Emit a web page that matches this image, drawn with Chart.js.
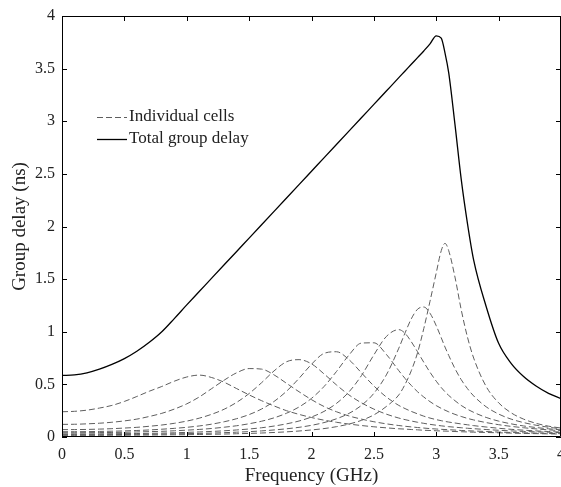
<!DOCTYPE html>
<html>
<head>
<meta charset="utf-8">
<script src="https://cdn.jsdelivr.net/npm/chart.js@4/dist/chart.umd.min.js"></script>
<style>
  html, body { margin: 0; padding: 0; background: #fff; }
</style>
</head>
<body>
<canvas id="delay-chart" width="561" height="487"></canvas>
<script>
// frequency grid (GHz), shared by every curve
var freq = [0, 0.1, 0.2, 0.3, 0.4, 0.5, 0.6, 0.7, 0.8, 0.9, 1.0, 1.1, 1.2, 1.3, 1.4, 1.5, 1.6, 1.7, 1.8, 1.9, 2.0, 2.1, 2.2, 2.3, 2.4, 2.5,
  2.6, 2.7, 2.75, 2.8, 2.85, 2.9, 2.95, 3.0, 3.04, 3.07, 3.1, 3.15, 3.2, 3.25, 3.3, 3.4, 3.5, 3.6, 3.7, 3.8, 3.9, 4.0];

// group delay of each cell (ns)
var cell1 = [0.24, 0.244, 0.255, 0.275, 0.30, 0.338, 0.385, 0.435, 0.48, 0.53, 0.57, 0.588, 0.565, 0.52, 0.46, 0.40, 0.345, 0.295, 0.25, 0.215, 0.185, 0.16, 0.14, 0.123, 0.109, 0.097,
  0.087, 0.078, 0.075, 0.071, 0.068, 0.064, 0.062, 0.059, 0.057, 0.056, 0.055, 0.052, 0.05, 0.048, 0.046, 0.043, 0.04, 0.037, 0.034, 0.032, 0.03, 0.028];
var cell2 = [0.12, 0.121, 0.125, 0.131, 0.14, 0.153, 0.17, 0.195, 0.225, 0.265, 0.315, 0.38, 0.46, 0.54, 0.61, 0.65, 0.645, 0.59, 0.51, 0.43, 0.355, 0.29, 0.24, 0.20, 0.17, 0.145,
  0.125, 0.109, 0.102, 0.096, 0.09, 0.085, 0.08, 0.076, 0.073, 0.071, 0.069, 0.066, 0.062, 0.059, 0.057, 0.052, 0.047, 0.043, 0.04, 0.037, 0.034, 0.032];
var cell3 = [0.07, 0.0705, 0.072, 0.075, 0.079, 0.085, 0.092, 0.102, 0.114, 0.13, 0.151, 0.179, 0.216, 0.264, 0.329, 0.413, 0.516, 0.628, 0.715, 0.735, 0.695, 0.60, 0.495, 0.40, 0.325, 0.265,
  0.217, 0.18, 0.165, 0.152, 0.14, 0.13, 0.12, 0.112, 0.106, 0.102, 0.098, 0.093, 0.088, 0.083, 0.079, 0.071, 0.064, 0.058, 0.053, 0.049, 0.045, 0.041];
var cell4 = [0.05, 0.05, 0.051, 0.053, 0.055, 0.058, 0.062, 0.067, 0.074, 0.082, 0.092, 0.105, 0.122, 0.145, 0.174, 0.213, 0.266, 0.338, 0.435, 0.557, 0.691, 0.794, 0.81, 0.735, 0.61, 0.485,
  0.38, 0.30, 0.27, 0.243, 0.22, 0.198, 0.18, 0.165, 0.155, 0.148, 0.142, 0.133, 0.124, 0.116, 0.108, 0.095, 0.083, 0.073, 0.065, 0.058, 0.052, 0.047];
var cell5 = [0.04, 0.04, 0.041, 0.042, 0.043, 0.045, 0.048, 0.051, 0.054, 0.059, 0.065, 0.072, 0.081, 0.093, 0.107, 0.126, 0.15, 0.182, 0.226, 0.285, 0.367, 0.479, 0.622, 0.778, 0.892, 0.895,
  0.785, 0.63, 0.556, 0.49, 0.43, 0.38, 0.336, 0.298, 0.272, 0.255, 0.239, 0.215, 0.195, 0.177, 0.162, 0.137, 0.117, 0.101, 0.088, 0.077, 0.068, 0.06];
var cell6 = [0.029, 0.029, 0.029, 0.030, 0.031, 0.032, 0.033, 0.035, 0.037, 0.040, 0.044, 0.048, 0.053, 0.059, 0.067, 0.076, 0.088, 0.104, 0.125, 0.152, 0.19, 0.243, 0.319, 0.428, 0.583, 0.78,
  0.955, 1.02, 0.985, 0.905, 0.81, 0.71, 0.615, 0.53, 0.47, 0.43, 0.395, 0.345, 0.30, 0.264, 0.234, 0.186, 0.151, 0.125, 0.105, 0.09, 0.078, 0.068];
var cell7 = [0.022, 0.022, 0.022, 0.022, 0.023, 0.024, 0.025, 0.026, 0.028, 0.030, 0.032, 0.034, 0.037, 0.041, 0.046, 0.051, 0.058, 0.067, 0.078, 0.092, 0.111, 0.137, 0.173, 0.224, 0.30, 0.415,
  0.59, 0.844, 0.989, 1.123, 1.214, 1.235, 1.176, 1.057, 0.943, 0.855, 0.775, 0.65, 0.545, 0.46, 0.39, 0.287, 0.218, 0.17, 0.137, 0.112, 0.093, 0.078];
var cell8 = [0.016, 0.016, 0.016, 0.016, 0.017, 0.017, 0.018, 0.019, 0.02, 0.021, 0.022, 0.024, 0.026, 0.028, 0.031, 0.034, 0.038, 0.043, 0.049, 0.057, 0.067, 0.08, 0.098, 0.123, 0.158, 0.21,
  0.29, 0.40, 0.50, 0.63, 0.80, 1.03, 1.29, 1.56, 1.77, 1.84, 1.77, 1.52, 1.21, 0.95, 0.75, 0.48, 0.325, 0.23, 0.17, 0.13, 0.103, 0.085];

// total group delay (ns)
var totalDelay = [0.585, 0.59, 0.61, 0.645, 0.69, 0.745, 0.815, 0.9, 1.0, 1.125, 1.255, 1.382, 1.509, 1.636, 1.763, 1.89, 2.017, 2.144, 2.271, 2.398, 2.525, 2.652, 2.779, 2.906, 3.033, 3.16,
  3.287, 3.414, 3.478, 3.541, 3.605, 3.668, 3.735, 3.812, 3.79, 3.65, 3.46, 2.97, 2.45, 2.03, 1.68, 1.24, 0.89, 0.70, 0.575, 0.485, 0.415, 0.365];

var xTickValues = [0, 0.5, 1, 1.5, 2, 2.5, 3, 3.5, 4];
var yTickValues = [0, 0.5, 1, 1.5, 2, 2.5, 3, 3.5, 4];

var serif = "'Liberation Serif', 'Times New Roman', serif";
var dashColor = "#5e5e5e";

function toPoints(values) {
  return freq.map(function (f, i) {
    return { x: f, y: values[i] };
  });
}

var datasets = [];
[cell1, cell2, cell3, cell4, cell5, cell6, cell7, cell8].forEach(function (c) {
  datasets.push({
    data: toPoints(c),
    borderColor: dashColor,
    borderWidth: 1,
    borderDash: [6, 3],
    pointRadius: 0,
    cubicInterpolationMode: "monotone",
  });
});
datasets.push({
  data: toPoints(totalDelay),
  borderColor: "#000",
  borderWidth: 1.3,
  pointRadius: 0,
  cubicInterpolationMode: "monotone",
});

// box around the plot, inward ticks on all sides, and the legend
var framePlugin = {
  id: "frame",
  afterDraw: function (chart) {
    var ctx = chart.ctx;
    var a = chart.chartArea;
    var xs = chart.scales.x;
    var ys = chart.scales.y;
    var tl = 5;
    ctx.save();
    ctx.strokeStyle = "#000";
    ctx.lineWidth = 1;
    ctx.beginPath();
    ctx.rect(a.left + 0.5, a.top + 0.5, a.right - a.left - 1, a.bottom - a.top - 1);
    xTickValues.forEach(function (v) {
      var px = Math.round(xs.getPixelForValue(v)) + 0.5;
      ctx.moveTo(px, a.bottom);
      ctx.lineTo(px, a.bottom - tl);
      ctx.moveTo(px, a.top);
      ctx.lineTo(px, a.top + tl);
    });
    yTickValues.forEach(function (v) {
      var py = Math.round(ys.getPixelForValue(v)) + 0.5;
      ctx.moveTo(a.left, py);
      ctx.lineTo(a.left + tl, py);
      ctx.moveTo(a.right, py);
      ctx.lineTo(a.right - tl, py);
    });
    ctx.stroke();

    // legend
    ctx.font = "17px " + serif;
    ctx.fillStyle = "#222";
    ctx.textBaseline = "middle";
    ctx.strokeStyle = dashColor;
    ctx.setLineDash([6, 3]);
    ctx.beginPath();
    ctx.moveTo(97, 117.5);
    ctx.lineTo(127, 117.5);
    ctx.stroke();
    ctx.setLineDash([]);
    ctx.strokeStyle = "#000";
    ctx.lineWidth = 1.3;
    ctx.beginPath();
    ctx.moveTo(97, 139.5);
    ctx.lineTo(127, 139.5);
    ctx.stroke();
    ctx.fillText("Individual cells", 129, 117);
    ctx.fillText("Total group delay", 129, 139);
    ctx.restore();
  },
};

function plainLabel(value) {
  return String(value);
}

var ctx = document.getElementById("delay-chart").getContext("2d");
new Chart(ctx, {
  type: "line",
  data: { datasets: datasets },
  options: {
    responsive: false,
    animation: false,
    layout: { padding: { top: 16, right: 0, left: 0, bottom: 0 }, autoPadding: false },
    plugins: {
      legend: { display: false },
      tooltip: { enabled: false },
    },
    scales: {
      x: {
        type: "linear",
        min: 0,
        max: 4,
        afterBuildTicks: function (scale) {
          scale.ticks = xTickValues.map(function (v) { return { value: v }; });
        },
        afterFit: function (scale) {
          scale.height = 50;
          scale.paddingLeft = 0;
          scale.paddingRight = 0;
        },
        grid: { display: false, drawTicks: false },
        border: { display: false },
        ticks: {
          padding: 8,
          maxRotation: 0,
          autoSkip: false,
          color: "#222",
          font: { family: serif, size: 16 },
          callback: plainLabel,
        },
        title: {
          display: true,
          text: "Frequency (GHz)",
          color: "#222",
          font: { family: serif, size: 19 },
          padding: { top: 2, bottom: 0 },
        },
      },
      y: {
        min: 0,
        max: 4,
        afterBuildTicks: function (scale) {
          scale.ticks = yTickValues.map(function (v) { return { value: v }; });
        },
        afterFit: function (scale) {
          scale.width = 62;
          scale.paddingTop = 0;
          scale.paddingBottom = 0;
        },
        grid: { display: false, drawTicks: false },
        border: { display: false },
        ticks: {
          padding: 7,
          color: "#222",
          font: { family: serif, size: 16 },
          callback: plainLabel,
        },
        title: {
          display: true,
          text: "Group delay (ns)",
          color: "#222",
          font: { family: serif, size: 19 },
          padding: { top: 9, bottom: 0 },
        },
      },
    },
  },
  plugins: [framePlugin],
});
</script>
</body>
</html>
